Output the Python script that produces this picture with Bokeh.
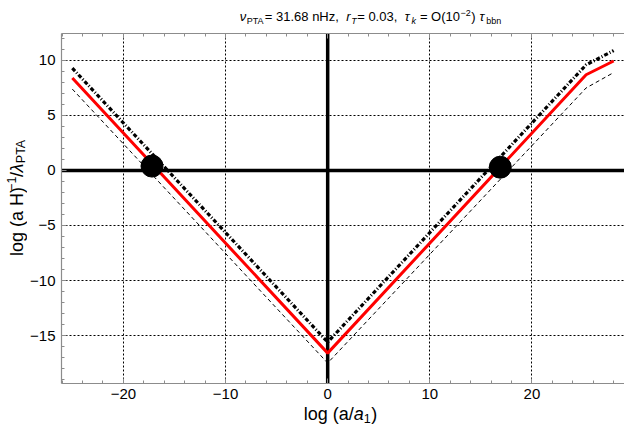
import math
from bokeh.plotting import figure
from bokeh.layouts import column, row
from bokeh.models import Range1d, Span, Label, LinearAxis, FixedTicker, CustomJSTickFormatter
from bokeh.embed import file_html
from bokeh.resources import INLINE

# ---- data ----
x_nodes = [-25.0, 0.0, 25.3, 28.0]
red_curve = [8.4, -16.6, 8.7, 9.95]
dotdash_curve = [9.3, -15.6, 9.6, 10.9]
dashed_curve = [7.4, -17.5, 7.5, 8.9]
marker_x = [-17.2, 16.9]
marker_y = [0.4, 0.3]
x_major = [-20, -10, 0, 10, 20]
x_minor = list(range(-26, 30, 2))
y_major = [-15, -10, -5, 0, 5, 10]
y_minor = list(range(-19, 13))

# ---- layout constants (pixels) ----
W_, H_ = 624, 425
TITLE_H = 30
XLAB_H = 21
YLAB_W = 27
MAIN_W = W_ - YLAB_W
MAIN_H = H_ - TITLE_H - XLAB_H
XR = (-26.06, 29.06)
YR = (-19.36, 12.45)
FONT = "Liberation Sans"

p = figure(width=MAIN_W, height=MAIN_H, x_range=Range1d(*XR), y_range=Range1d(*YR),
           output_backend="svg", toolbar_location=None,
           min_border_left=57 - YLAB_W, min_border_right=0, min_border_top=33 - TITLE_H,
           min_border_bottom=MAIN_H - (383 - TITLE_H))
p.outline_line_color = None
p.background_fill_color = "white"
p.border_fill_color = "white"

fmt = CustomJSTickFormatter(code="return tick < 0 ? '\\u2212' + Math.abs(tick) : String(tick);")
xt = FixedTicker(ticks=x_major, minor_ticks=x_minor)
yt = FixedTicker(ticks=y_major, minor_ticks=y_minor)

def style_axis(ax, show_labels=True, standoff=6):
    ax.axis_line_color = "#8c8c8c"
    ax.axis_line_width = 1.2
    ax.major_tick_line_color = "#8c8c8c"
    ax.minor_tick_line_color = "#8c8c8c"
    ax.major_tick_in = 5
    ax.major_tick_out = 0
    ax.minor_tick_in = 3
    ax.minor_tick_out = 0
    ax.major_label_text_font = FONT
    ax.major_label_text_color = "black"
    ax.major_label_standoff = standoff
    ax.formatter = fmt
    if show_labels:
        ax.major_label_text_font_size = "15px"
    else:
        ax.major_label_text_color = None
        ax.major_label_text_font_size = "1px"
        ax.major_label_standoff = 0

p.xaxis.ticker = xt
p.yaxis.ticker = yt
for ax in p.xaxis:
    style_axis(ax, standoff=5)
for ax in p.yaxis:
    style_axis(ax, standoff=6)

top = LinearAxis(ticker=FixedTicker(ticks=x_major, minor_ticks=x_minor))
style_axis(top, show_labels=False)
p.add_layout(top, "above")

for g in (p.xgrid[0], p.ygrid[0]):
    g.grid_line_color = "black"
    g.grid_line_dash = "2 2"
    g.grid_line_width = 1

# Thick axes through the origin
p.add_layout(Span(location=0, dimension="width", line_color="black", line_width=3.5, level="underlay"))
p.add_layout(Span(location=0, dimension="height", line_color="black", line_width=3.5, level="underlay"))

# Curves
p.line(x_nodes, dashed_curve, line_color="black", line_width=1, line_dash="4 3")
p.line(x_nodes, dotdash_curve, line_color="black", line_width=3.2, line_dash="4 2 1 2")
p.line(x_nodes, red_curve, line_color="#ff0000", line_width=3)
p.scatter(marker_x, marker_y, size=22, color="black")

# ---- text strips (frames cover the whole strip; 1 data unit = 1 px) ----
def text_fig(w, h):
    f = figure(width=w, height=h, x_range=Range1d(0, w), y_range=Range1d(0, h),
               output_backend="svg", toolbar_location=None,
               x_axis_location=None, y_axis_location=None,
               min_border=0, min_border_left=0, min_border_right=0,
               min_border_top=0, min_border_bottom=0)
    f.xgrid.visible = False
    f.ygrid.visible = False
    f.outline_line_color = None
    f.background_fill_color = "white"
    f.border_fill_color = "white"
    return f

CW = {' ': .278, '(': .333, ')': .333, ',': .278, '.': .278, '/': .278, '=': .584,
      'A': .667, 'H': .722, 'O': .778, 'P': .667, 'T': .611, 'a': .556, 'b': .556,
      'g': .556, 'k': .5, 'l': .222, 'n': .556, 'o': .556, 'r': .333, 'z': .5,
      '\u2212': .584, '\u03bd': .5, '\u03c4': .47, '\u03bb': .52}
DESC = 0.22  # Bokeh places the "alphabetic" anchor about one descent lower

def tw(s, size):
    return sum(CW.get(c, .556) for c in s) * size

def add_text(f, x, y, text, size, style="normal", angle=0.0):
    f.add_layout(Label(x=x, y=y, text=text, text_font=FONT,
                       text_font_size=f"{size}px", text_font_style=style,
                       text_color="black", text_align="left",
                       text_baseline="alphabetic", angle=angle))

def chain_h(f, segs, cx, base_y):
    # base_y measured upward from the strip bottom
    total = sum(tw(t, s) + g for t, s, st, dy, g in segs)
    x = cx - total / 2
    for t, s, st, dy, g in segs:
        x += g
        if t:
            add_text(f, x, base_y + dy + DESC * s, t, s, st)
        x += tw(t, s)

def chain_v(f, segs, base_x, cy):
    total = sum(tw(t, s) + g for t, s, st, dy, g in segs)
    y = cy - total / 2
    for t, s, st, dy, g in segs:
        y += g
        if t:
            add_text(f, base_x - dy - DESC * s, y, t, s, st, angle=math.pi / 2)
        y += tw(t, s)

M, S = 13, 9
title_segs = [
    ("\u03bd", M, "italic", 0, 0),
    ("PTA", S, "normal", -3, 0.5),
    ("= 31.68 nHz,", M, "normal", 0, 0.5),
    ("r", M, "italic", 0, 7.5),
    ("T", S, "italic", -3, 0.5),
    ("= 0.03,", M, "normal", 0, 0.5),
    ("\u03c4", M, "italic", 0, 7.5),
    ("k", S, "italic", -3, 0.5),
    ("= O(10", M, "normal", 0, 4),
    ("\u22122", S, "normal", 5, 0.5),
    (")", M, "normal", 0, 0.5),
    ("\u03c4", M, "italic", 0, 4),
    ("bbn", S, "normal", -3, 0.5),
]
tf = text_fig(W_, TITLE_H)
chain_h(tf, title_segs, 370, TITLE_H - 19)

LM, LS = 18, 12.5
xlabel_segs = [
    ("log (a/", LM, "normal", 0, 0),
    ("a", LM, "italic", 0, 0),
    ("1", LS, "normal", -3, 0),
    (")", LM, "normal", 0, 0.5),
]
xf = text_fig(W_, XLAB_H)
chain_h(xf, xlabel_segs, 340, H_ - 417.3)

ylabel_segs = [
    ("log (a H)", LM, "normal", 0, 0),
    ("\u22121", LS, "normal", 6.5, 0.5),
    ("/", LM, "normal", 0, 0.5),
    ("\u03bb", LM, "italic", 0, 0),
    ("PTA", LS, "normal", -3, 0.5),
]
yf = text_fig(YLAB_W, MAIN_H)
chain_v(yf, ylabel_segs, 20, (TITLE_H + MAIN_H) - 206)

layout = column(tf, row(yf, p, spacing=0), xf, spacing=0)
open("out.html", "w").write(file_html(layout, INLINE))
